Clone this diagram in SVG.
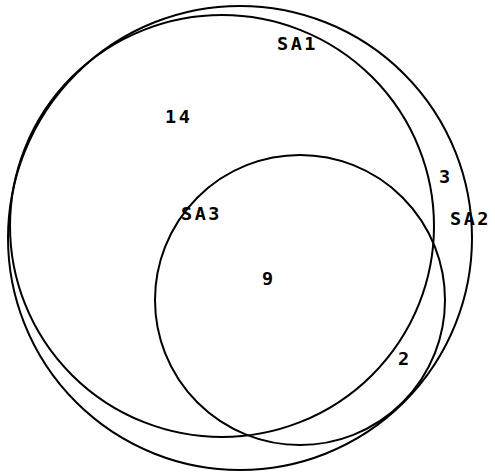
<svg xmlns="http://www.w3.org/2000/svg" width="495" height="473" viewBox="0 0 495 473">
<style>
.c{fill:none;stroke:#000;stroke-width:2}
.t{font-family:"DejaVu Sans Mono","Liberation Mono",monospace;font-size:18.5px;font-weight:bold;fill:#000;letter-spacing:2.5px}
</style>
<rect width="495" height="473" fill="#fff"/>
<g id="SA1"><ellipse class="c" cx="222" cy="226" rx="212" ry="211"/><text class="t" x="277" y="50">SA1</text></g>
<g id="SA2"><circle class="c" cx="240" cy="238" r="232"/><text class="t" x="450" y="225">SA2</text></g>
<g id="SA3"><circle class="c" cx="300" cy="300" r="145"/><text class="t" x="181" y="220">SA3</text></g>
<g id="counts">
<text class="t" x="165" y="123">14</text>
<text class="t" x="439" y="183">3</text>
<text class="t" x="262" y="285">9</text>
<text class="t" x="398" y="365">2</text>
</g>
</svg>
